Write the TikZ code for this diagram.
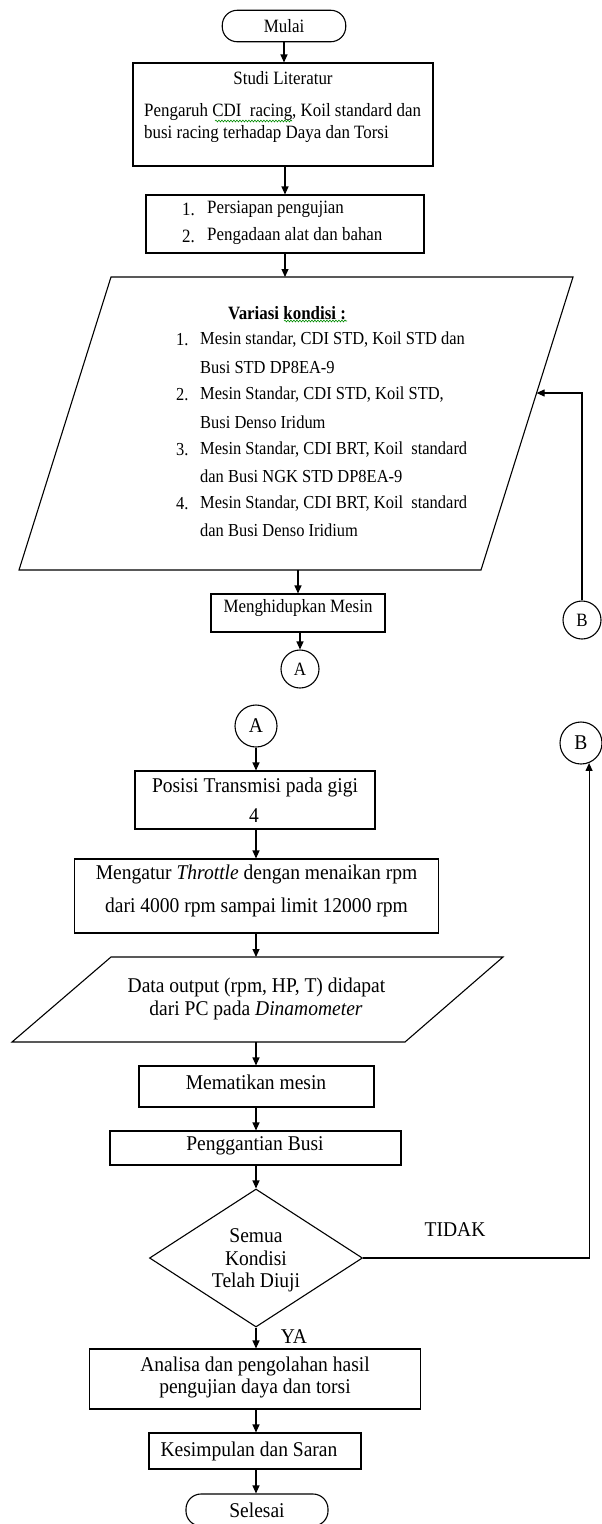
\documentclass[tikz,border=0pt]{standalone}
\usepackage{fontspec}
\setmainfont{Liberation Serif}
\newfontfamily\topfam{Liberation Serif}[FakeStretch=0.9]
\newfontfamily\botfam{Liberation Serif}[FakeStretch=0.93]
\usetikzlibrary{arrows.meta,shapes.geometric,decorations.pathmorphing}
\begin{document}
\begin{tikzpicture}[x=1pt,y=-1pt,
  box/.style={draw, rectangle, line width=1.1pt, inner sep=0pt},
  term/.style={draw, rectangle, rounded corners=15pt, line width=1.1pt, inner sep=0pt},
  conn/.style={draw, circle, line width=1.1pt, inner sep=0pt},
  polyline/.style={draw, line width=1.1pt, line join=miter},
  arr/.style={-{Triangle[length=8pt,width=7pt]}, line width=1.1pt},
  ts/.style={inner sep=0pt, font=\topfam\fontsize{18.8}{22}\selectfont},
  tl/.style={inner sep=0pt, font=\topfam\fontsize{18.3}{22}\selectfont, anchor=west},
  tb/.style={inner sep=0pt, font=\botfam\fontsize{21}{23}\selectfont},
  squig/.style={draw=green!55!black, line width=0.6pt, decorate, decoration={snake, amplitude=0.9pt, segment length=3pt}}
]
\useasboundingbox (0,0) rectangle (602,1524);
\fill[white] (0,0) rectangle (602,1524);

% ---------- top part ----------
\node[term, minimum width=123.5, minimum height=31.5, ts] (mulai) at (284,26) {Mulai};

\node[box, minimum width=300, minimum height=103] (studi) at (283,114.5) {};
\node[ts] (tstudi) at (283,78) {Studi Literatur};
\node[ts, anchor=west] (tstudi2) at (144,112) {Pengaruh CDI\ \ racing, Koil standard dan};
\node[ts, anchor=west] (tstudi3) at (144,134) {busi racing terhadap Daya dan Torsi};
\path[squig] (215,121) -- (292,121);

\node[box, minimum width=278, minimum height=58] (prep) at (285,224) {};
\node[ts, anchor=west] (np1) at (182,209) {1.};
\node[ts, anchor=west] (tp1) at (207,209) {Persiapan pengujian};
\node[ts, anchor=west] (np2) at (182,236) {2.};
\node[ts, anchor=west] (tp2) at (207,236) {Pengadaan alat dan bahan};

% parallelogram 1
\coordinate (p1a) at (111,277);
\coordinate (p1b) at (573,277);
\coordinate (p1c) at (481,570);
\coordinate (p1d) at (19,570);
\draw[polyline] (p1a) -- (p1b) -- (p1c) -- (p1d) -- cycle;
\coordinate (fb) at (536.6,393);

\node[inner sep=0pt, font=\topfam\fontsize{18.8}{22}\selectfont\bfseries] (tvar) at (287,313) {Variasi kondisi :};
\path[squig] (284,321) -- (347,321);

\node[tl] (n1) at (176,340) {1.};
\node[tl] (l1) at (200,340) {Mesin standar, CDI STD, Koil STD dan};
\node[tl] (l2) at (200,367.3) {Busi STD DP8EA-9};
\node[tl] (n2) at (176,395) {2.};
\node[tl] (l3) at (200,395) {Mesin Standar, CDI STD, Koil STD,};
\node[tl] (l4) at (200,422.7) {Busi Denso Iridum};
\node[tl] (n3) at (176,450) {3.};
\node[tl] (l5) at (200,450) {Mesin Standar, CDI BRT, Koil\ \ standard};
\node[tl] (l6) at (200,476.7) {dan Busi NGK STD DP8EA-9};
\node[tl] (n4) at (176,503.3) {4.};
\node[tl] (l7) at (200,503.3) {Mesin Standar, CDI BRT, Koil\ \ standard};
\node[tl] (l8) at (200,530) {dan Busi Denso Iridium};

\node[box, minimum width=174, minimum height=38] (hidup) at (298,613) {};
\node[ts] (thidup) at (298,608) {Menghidupkan Mesin};

\node[conn, minimum size=38, ts] (A1) at (300,669) {A};
\node[conn, minimum size=38, ts] (B1) at (582,620) {B};

\draw[arr] (mulai.south) -- (mulai.south |- studi.north);
\draw[arr] (studi.south -| prep.north) -- (prep.north);
\draw[arr] (prep.south) -- (prep.south |- p1a);
\draw[arr] (hidup.north |- p1d) -- (hidup.north);
\draw[arr] (A1.north |- hidup.south) -- (A1.north);
\draw[arr] (B1.north) |- (fb);

% ---------- bottom part ----------
\node[conn, minimum size=42, tb] (A2) at (256,726) {A};
\node[conn, minimum size=42, tb] (B2) at (581,743) {B};

\node[box, minimum width=240, minimum height=58] (posisi) at (255,800) {};
\node[tb] (tpos1) at (255,787) {Posisi Transmisi pada gigi};
\node[tb] (tpos2) at (254,816) {4};

\node[box, minimum width=364.5, minimum height=74] (atur) at (256.5,896) {};
\node[tb] (tatur1) at (256.5,874) {Mengatur \textit{Throttle} dengan menaikan rpm};
\node[tb] (tatur2) at (256.5,907) {dari 4000 rpm sampai limit 12000 rpm};

\coordinate (p2a) at (111,957);
\coordinate (p2b) at (503,957);
\coordinate (p2c) at (405,1042);
\coordinate (p2d) at (12,1042);
\draw[polyline] (p2a) -- (p2b) -- (p2c) -- (p2d) -- cycle;
\node[tb] (tdata1) at (256.5,987) {Data output (rpm, HP, T) didapat};
\node[tb] (tdata2) at (256,1010) {dari PC pada \textit{Dinamometer}};

\node[box, minimum width=235, minimum height=41] (mati) at (256.5,1086.5) {};
\node[tb] (tmati) at (256,1082) {Mematikan mesin};

\node[box, minimum width=291, minimum height=34] (ganti) at (255.5,1148) {};
\node[tb] (tganti) at (255,1146) {Penggantian Busi};

\node[draw, diamond, line width=1.1pt, inner sep=0pt, minimum width=213, minimum height=138] (dia) at (256,1258) {};
\node[tb] (td1) at (256,1236) {Semua};
\node[tb] (td2) at (256,1258) {Kondisi};
\node[tb] (td3) at (256,1282) {Telah Diuji};

\node[tb] (tidak) at (455,1230) {TIDAK};
\node[tb] (ya) at (294,1337) {YA};

\node[box, minimum width=331.5, minimum height=60] (analisa) at (255,1379) {};
\node[tb] (tan1) at (255,1366) {Analisa dan pengolahan hasil};
\node[tb] (tan2) at (255,1388) {pengujian daya dan torsi};

\node[box, minimum width=212, minimum height=36] (kesim) at (255,1451) {};
\node[tb] (tkesim) at (249,1451) {Kesimpulan dan Saran};

\node[term, minimum width=142, minimum height=32, tb] (selesai) at (257,1510) {Selesai};

\draw[arr] (A2.south) -- (A2.south |- posisi.north);
\draw[arr] (posisi.south -| A2.south) -- (A2.south |- atur.north);
\draw[arr] (atur.south -| A2.south) -- (A2.south |- p2a);
\draw[arr] (A2.south |- p2d) -- (A2.south |- mati.north);
\draw[arr] (mati.south -| A2.south) -- (A2.south |- ganti.north);
\draw[arr] (ganti.south -| dia.north) -- (dia.north);
\draw[arr] (dia.south) -- (dia.south |- analisa.north);
\draw[arr] (analisa.south -| dia.south) -- (dia.south |- kesim.north);
\draw[arr] (kesim.south -| dia.south) -- (dia.south |- selesai.north);
\draw[arr] (dia.east) -| (B2.-68);
\end{tikzpicture}
\end{document}
